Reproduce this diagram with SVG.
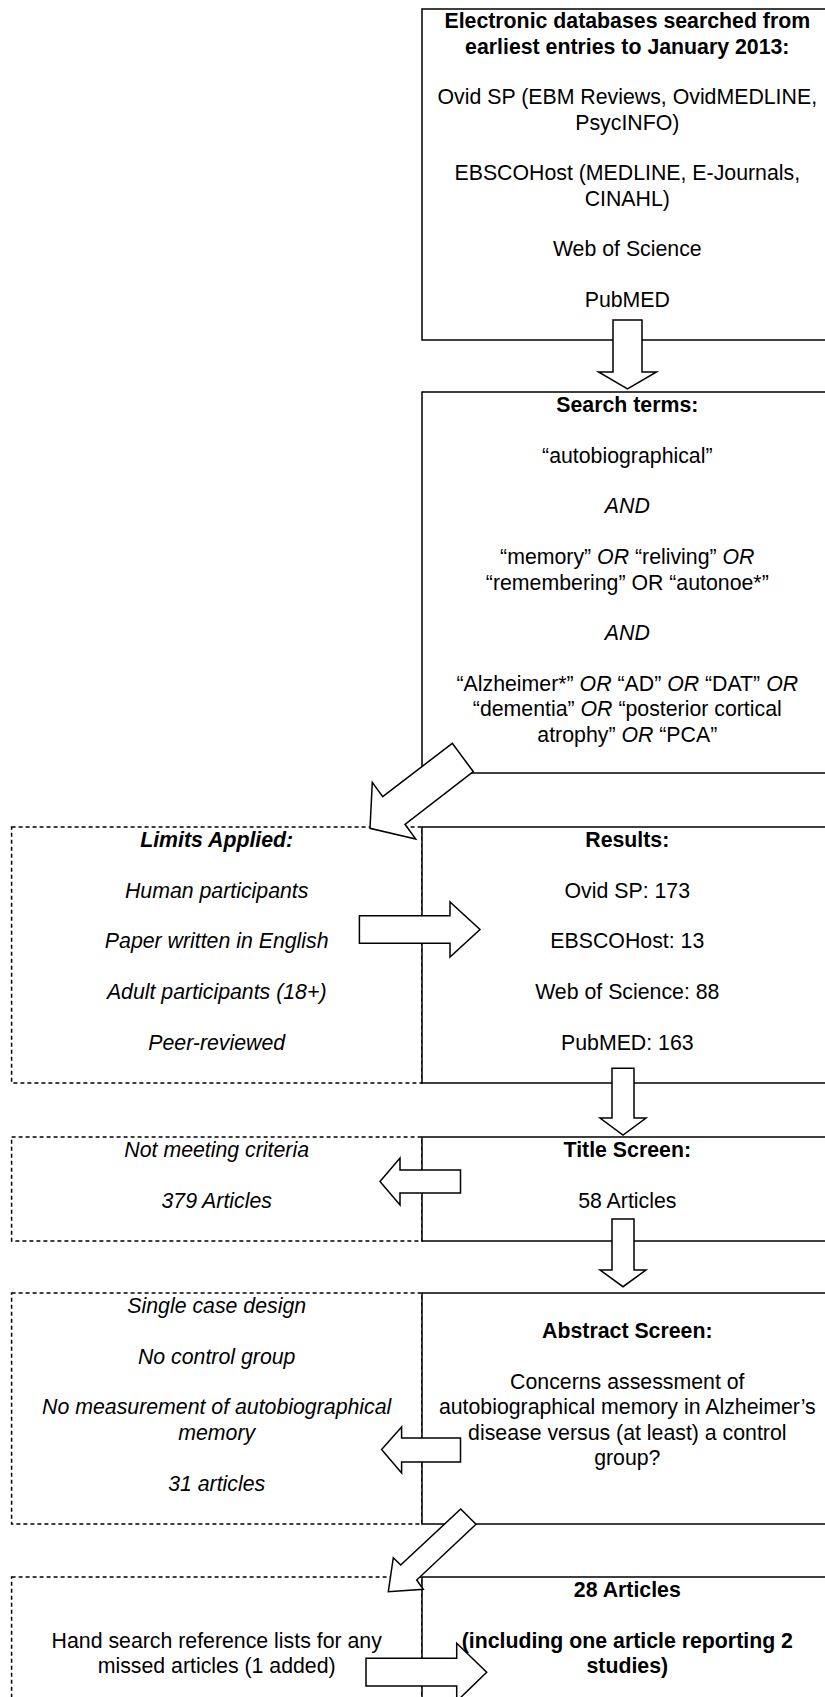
<svg xmlns="http://www.w3.org/2000/svg" width="825" height="1697" viewBox="0 0 825 1697">
<style>
.t{font-family:"Liberation Sans",Arial,sans-serif;font-size:21.3px;text-anchor:middle;fill:#000}
.b{font-weight:bold}
.i{font-style:italic}
.box{fill:#fff;stroke:#000;stroke-width:1.5}
.dbox{fill:none;stroke:#000;stroke-width:1.5;stroke-dasharray:4 3}
.arr{fill:#fff;stroke:#000;stroke-width:1.5;stroke-linejoin:miter}
</style>
<rect width="825" height="1697" fill="#fff"/>
<g id="databases">
<rect class="box" x="422" y="9" width="411" height="331"/>
<text class="t b" x="627.3" y="28.3">Electronic databases searched from</text>
<text class="t b" x="627.3" y="53.65">earliest entries to January 2013:</text>
<text class="t" x="627.3" y="104.35">Ovid SP (EBM Reviews, OvidMEDLINE,</text>
<text class="t" x="627.3" y="129.7">PsycINFO)</text>
<text class="t" x="627.3" y="180.4">EBSCOHost (MEDLINE, E-Journals,</text>
<text class="t" x="627.3" y="205.75">CINAHL)</text>
<text class="t" x="627.3" y="256.45">Web of Science</text>
<text class="t" x="627.3" y="307.15">PubMED</text>
</g>
<g id="search-terms">
<rect class="box" x="422" y="392" width="411" height="381"/>
<text class="t b" x="627.3" y="412">Search terms:</text>
<text class="t" x="627.3" y="462.7">“autobiographical”</text>
<text class="t i" x="627.3" y="513.4">AND</text>
<text class="t" x="627.3" y="564.1">“memory” <tspan class="i">OR</tspan> “reliving” <tspan class="i">OR</tspan></text>
<text class="t" x="627.3" y="589.5">“remembering” OR “autonoe*”</text>
<text class="t i" x="627.3" y="640.2">AND</text>
<text class="t" x="627.3" y="690.9">“Alzheimer*” <tspan class="i">OR</tspan> “AD” <tspan class="i">OR</tspan> “DAT” <tspan class="i">OR</tspan></text>
<text class="t" x="627.3" y="716.3">“dementia” <tspan class="i">OR</tspan> “posterior cortical</text>
<text class="t" x="627.3" y="741.6">atrophy” <tspan class="i">OR</tspan> “PCA”</text>
</g>
<g id="limits">
<rect class="dbox" x="11.6" y="827" width="410.4" height="256"/>
<text class="t b i" x="216.7" y="847">Limits Applied:</text>
<text class="t i" x="216.7" y="897.7">Human participants</text>
<text class="t i" x="216.7" y="948.4">Paper written in English</text>
<text class="t i" x="216.7" y="999.1">Adult participants (18+)</text>
<text class="t i" x="216.7" y="1049.8">Peer-reviewed</text>
</g>
<g id="results">
<rect class="box" x="422" y="827" width="411" height="256"/>
<text class="t b" x="627.3" y="847">Results:</text>
<text class="t" x="627.3" y="897.7">Ovid SP: 173</text>
<text class="t" x="627.3" y="948.4">EBSCOHost: 13</text>
<text class="t" x="627.3" y="999.1">Web of Science: 88</text>
<text class="t" x="627.3" y="1049.8">PubMED: 163</text>
</g>
<g id="not-meeting">
<rect class="dbox" x="11.6" y="1137" width="410.4" height="104"/>
<text class="t i" x="216.7" y="1157">Not meeting criteria</text>
<text class="t i" x="216.7" y="1207.7">379 Articles</text>
</g>
<g id="title-screen">
<rect class="box" x="422" y="1137" width="411" height="104"/>
<text class="t b" x="627.3" y="1157">Title Screen:</text>
<text class="t" x="627.3" y="1207.7">58 Articles</text>
</g>
<g id="excluded">
<rect class="dbox" x="11.6" y="1293" width="410.4" height="231"/>
<text class="t i" x="216.7" y="1313">Single case design</text>
<text class="t i" x="216.7" y="1363.7">No control group</text>
<text class="t i" x="216.7" y="1414.4">No measurement of autobiographical</text>
<text class="t i" x="216.7" y="1439.8">memory</text>
<text class="t i" x="216.7" y="1490.5">31 articles</text>
</g>
<g id="abstract-screen">
<rect class="box" x="422" y="1293" width="411" height="231"/>
<text class="t b" x="627.3" y="1338.4">Abstract Screen:</text>
<text class="t" x="627.3" y="1389.1">Concerns assessment of</text>
<text class="t" x="627.3" y="1414.4">autobiographical memory in Alzheimer’s</text>
<text class="t" x="627.3" y="1439.8">disease versus (at least) a control</text>
<text class="t" x="627.3" y="1465.2">group?</text>
</g>
<g id="hand-search">
<rect class="dbox" x="11.6" y="1577" width="410.4" height="140"/>
<text class="t" x="216.7" y="1647.7">Hand search reference lists for any</text>
<text class="t" x="216.7" y="1673.1">missed articles (1 added)</text>
</g>
<g id="final">
<rect class="box" x="422" y="1577" width="411" height="140"/>
<text class="t b" x="627.3" y="1597">28 Articles</text>
<text class="t b" x="627.3" y="1647.7">(including one article reporting 2</text>
<text class="t b" x="627.3" y="1673.1">studies)</text>
</g>
<g id="connectors">
<polygon class="arr" points="613,320 642,320 642,372 656.5,372 627.5,389 598.5,372 613,372"/>
<polygon class="arr" points="452.3,743.3 473.3,771.7 405,824.3 415.7,839 370,828.3 372.3,782.3 382.7,796.7"/>
<polygon class="arr" points="359.4,915.7 450,915.7 450,902 480,929.5 450,957 450,943.3 359.4,943.3"/>
<polygon class="arr" points="612,1068.3 634,1068.3 634,1118 646,1118 623,1135 600,1118 612,1118"/>
<polygon class="arr" points="460.5,1170 460.5,1193 400,1193 400,1205 380,1181.5 400,1158 400,1170"/>
<polygon class="arr" points="612,1219 634,1219 634,1270 646,1270 623,1286.7 600,1270 612,1270"/>
<polygon class="arr" points="460.5,1438 460.5,1462 401.6,1462 401.6,1473 381.6,1449.5 401.6,1427 401.6,1438"/>
<polygon class="arr" points="460.7,1509 476,1524.3 416.7,1580 423.3,1589.3 388.3,1591.7 393.3,1557.7 400.7,1565"/>
<polygon class="arr" points="366,1658.3 456.7,1658.3 456.7,1643.3 486.7,1672.3 456.7,1701.3 456.7,1686 366,1686"/>
</g>
</svg>
